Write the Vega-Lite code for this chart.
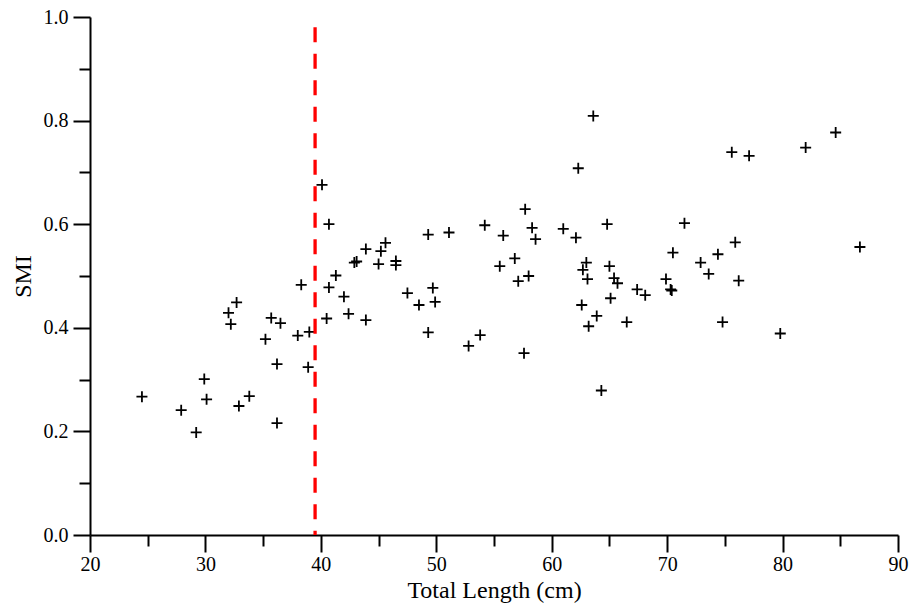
{
  "$schema": "https://vega.github.io/schema/vega-lite/v6.json",
  "width": 808,
  "height": 518,
  "autosize": {"type": "none"},
  "padding": {"left": 90, "top": 17, "right": 13, "bottom": 70},
  "background": "white",
  "config": {
    "view": {"stroke": null},
    "font": "Liberation Serif",
    "axis": {
      "grid": false,
      "domainColor": "#000000",
      "domainWidth": 2,
      "tickColor": "#000000",
      "tickWidth": 2,
      "labelFlush": false,
      "labelOverlap": false,
      "labelFont": "Liberation Serif",
      "labelFontSize": 20,
      "labelColor": "#000000",
      "titleFont": "Liberation Serif",
      "titleFontSize": 24,
      "titleFontWeight": "normal",
      "titleColor": "#000000"
    }
  },
  "layer": [
    {
      "data": {"values": [
        {"len": 24.5, "smi": 0.267}, {"len": 27.9, "smi": 0.241}, {"len": 29.2, "smi": 0.198},
        {"len": 29.9, "smi": 0.301}, {"len": 30.1, "smi": 0.262}, {"len": 32.9, "smi": 0.249},
        {"len": 33.8, "smi": 0.268}, {"len": 32.7, "smi": 0.449}, {"len": 32.0, "smi": 0.429},
        {"len": 32.2, "smi": 0.407}, {"len": 35.2, "smi": 0.378}, {"len": 35.7, "smi": 0.419},
        {"len": 36.5, "smi": 0.409}, {"len": 36.2, "smi": 0.330}, {"len": 36.2, "smi": 0.216},
        {"len": 38.0, "smi": 0.385}, {"len": 38.3, "smi": 0.483}, {"len": 39.0, "smi": 0.392},
        {"len": 38.9, "smi": 0.324}, {"len": 40.5, "smi": 0.418}, {"len": 40.7, "smi": 0.478},
        {"len": 41.3, "smi": 0.501}, {"len": 42.0, "smi": 0.460}, {"len": 42.4, "smi": 0.427},
        {"len": 40.1, "smi": 0.676}, {"len": 40.7, "smi": 0.600}, {"len": 43.9, "smi": 0.415},
        {"len": 42.9, "smi": 0.526}, {"len": 43.1, "smi": 0.528}, {"len": 43.9, "smi": 0.552},
        {"len": 45.0, "smi": 0.523}, {"len": 45.2, "smi": 0.548}, {"len": 45.6, "smi": 0.564},
        {"len": 46.5, "smi": 0.529}, {"len": 46.5, "smi": 0.521}, {"len": 49.3, "smi": 0.580},
        {"len": 51.1, "smi": 0.584}, {"len": 47.5, "smi": 0.467}, {"len": 48.5, "smi": 0.444},
        {"len": 49.7, "smi": 0.477}, {"len": 49.9, "smi": 0.450}, {"len": 49.3, "smi": 0.391},
        {"len": 52.8, "smi": 0.365}, {"len": 53.8, "smi": 0.386}, {"len": 54.2, "smi": 0.598},
        {"len": 55.8, "smi": 0.578}, {"len": 55.5, "smi": 0.519}, {"len": 56.8, "smi": 0.534},
        {"len": 57.1, "smi": 0.490}, {"len": 58.0, "smi": 0.500}, {"len": 57.7, "smi": 0.629},
        {"len": 58.3, "smi": 0.593}, {"len": 58.6, "smi": 0.571}, {"len": 57.6, "smi": 0.351},
        {"len": 61.0, "smi": 0.591}, {"len": 62.1, "smi": 0.574}, {"len": 64.8, "smi": 0.600},
        {"len": 63.0, "smi": 0.526}, {"len": 62.7, "smi": 0.512}, {"len": 63.1, "smi": 0.494},
        {"len": 65.0, "smi": 0.519}, {"len": 65.4, "smi": 0.496}, {"len": 65.7, "smi": 0.486},
        {"len": 62.6, "smi": 0.444}, {"len": 63.9, "smi": 0.423}, {"len": 63.2, "smi": 0.403},
        {"len": 65.1, "smi": 0.457}, {"len": 66.5, "smi": 0.411}, {"len": 67.4, "smi": 0.474},
        {"len": 68.1, "smi": 0.463}, {"len": 64.3, "smi": 0.279}, {"len": 69.9, "smi": 0.494},
        {"len": 70.3, "smi": 0.474}, {"len": 70.4, "smi": 0.472}, {"len": 70.5, "smi": 0.545},
        {"len": 71.5, "smi": 0.602}, {"len": 72.9, "smi": 0.526}, {"len": 73.6, "smi": 0.504},
        {"len": 74.4, "smi": 0.542}, {"len": 75.9, "smi": 0.565}, {"len": 76.2, "smi": 0.491},
        {"len": 74.8, "smi": 0.411}, {"len": 79.8, "smi": 0.389}, {"len": 75.6, "smi": 0.739},
        {"len": 77.1, "smi": 0.732}, {"len": 82.0, "smi": 0.748}, {"len": 84.6, "smi": 0.777},
        {"len": 86.7, "smi": 0.556}, {"len": 63.6, "smi": 0.809}, {"len": 62.3, "smi": 0.708}
      ]},
      "mark": {"type": "point", "shape": "M-1,0H1M0,-1V1", "filled": false, "stroke": "#000000", "strokeWidth": 1.8, "size": 121, "opacity": 1},
      "encoding": {
        "x": {
          "field": "len", "type": "quantitative",
          "scale": {"domain": [20, 90], "nice": false, "zero": false},
          "axis": {
            "title": "Total Length (cm)",
            "values": [20, 25, 30, 35, 40, 45, 50, 55, 60, 65, 70, 75, 80, 85, 90],
            "labelExpr": "datum.value % 10 === 0 ? datum.label : ''",
            "tickSize": {"condition": {"test": "datum.value % 10 === 0", "value": 17}, "value": 11},
            "labelPadding": 2,
            "titlePadding": 4
          }
        },
        "y": {
          "field": "smi", "type": "quantitative",
          "scale": {"domain": [0, 1], "nice": false},
          "axis": {
            "title": "SMI",
            "values": [0, 0.1, 0.2, 0.3, 0.4, 0.5, 0.6, 0.7, 0.8, 0.9, 1.0],
            "format": ".1f",
            "labelExpr": "round(datum.value * 10) % 2 === 0 ? datum.label : ''",
            "tickSize": {"condition": {"test": "round(datum.value * 10) % 2 === 0", "value": 17}, "value": 11},
            "labelPadding": 5,
            "titlePadding": 8
          }
        }
      }
    },
    {
      "data": {"values": [{"x": 39.5, "top": 0.98, "bottom": 0}]},
      "mark": {"type": "rule", "color": "#ff0000", "strokeWidth": 3.3, "strokeDash": [15, 11.5]},
      "encoding": {
        "x": {"field": "x", "type": "quantitative"},
        "y": {"field": "top", "type": "quantitative"},
        "y2": {"field": "bottom"}
      }
    }
  ]
}
